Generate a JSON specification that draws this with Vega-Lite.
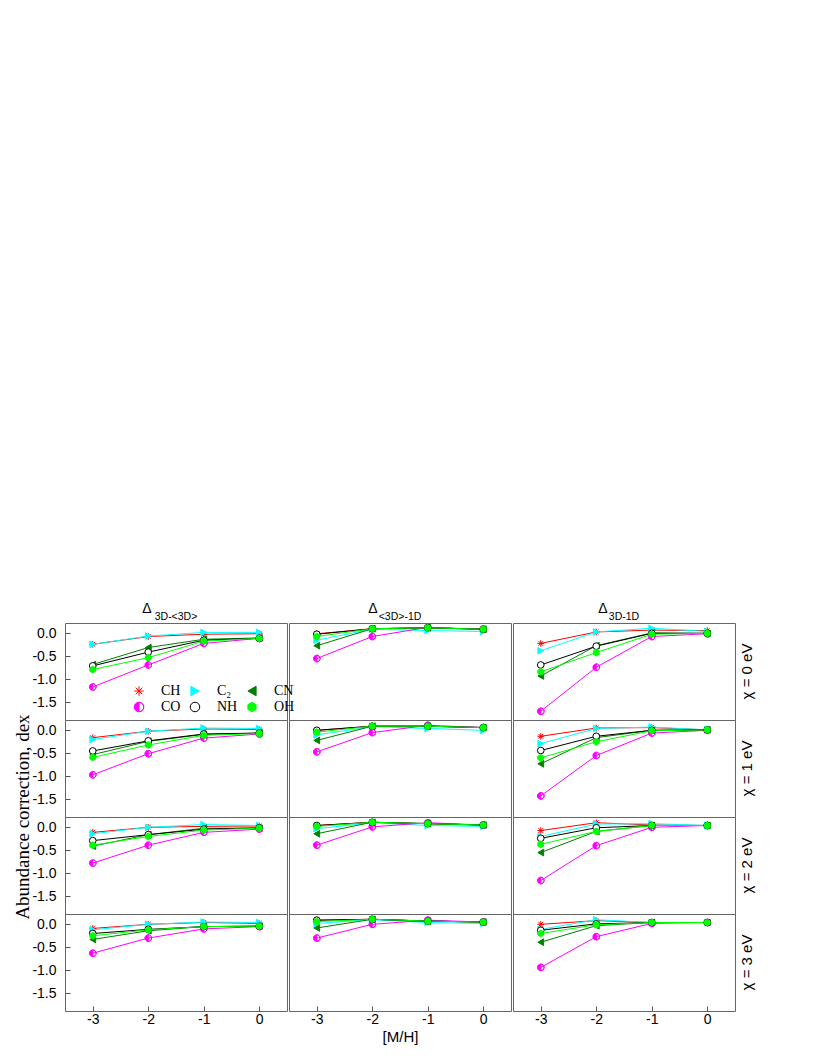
{
  "$schema": "https://vega.github.io/schema/vega-lite/v6.json",
  "background": "white",
  "padding": {"left": 13, "top": 601, "right": 5, "bottom": 5},
  "spacing": 0,
  "data": {"values": [
    {"c":"3D-<3D>","r":"χ = 0 eV","m":"CH","x":-3,"y":-0.24},{"c":"3D-<3D>","r":"χ = 0 eV","m":"CH","x":-2,"y":-0.07},{"c":"3D-<3D>","r":"χ = 0 eV","m":"CH","x":-1,"y":-0.02},{"c":"3D-<3D>","r":"χ = 0 eV","m":"CH","x":0,"y":-0.01},
    {"c":"3D-<3D>","r":"χ = 0 eV","m":"C₂","x":-3,"y":-0.24},{"c":"3D-<3D>","r":"χ = 0 eV","m":"C₂","x":-2,"y":-0.06},{"c":"3D-<3D>","r":"χ = 0 eV","m":"C₂","x":-1,"y":0.02},{"c":"3D-<3D>","r":"χ = 0 eV","m":"C₂","x":0,"y":0.02},
    {"c":"3D-<3D>","r":"χ = 0 eV","m":"CN","x":-3,"y":-0.68},{"c":"3D-<3D>","r":"χ = 0 eV","m":"CN","x":-2,"y":-0.31},{"c":"3D-<3D>","r":"χ = 0 eV","m":"CN","x":-1,"y":-0.13},{"c":"3D-<3D>","r":"χ = 0 eV","m":"CN","x":0,"y":-0.10},
    {"c":"3D-<3D>","r":"χ = 0 eV","m":"CO","x":-3,"y":-1.17},{"c":"3D-<3D>","r":"χ = 0 eV","m":"CO","x":-2,"y":-0.69},{"c":"3D-<3D>","r":"χ = 0 eV","m":"CO","x":-1,"y":-0.22},{"c":"3D-<3D>","r":"χ = 0 eV","m":"CO","x":0,"y":-0.11},
    {"c":"3D-<3D>","r":"χ = 0 eV","m":"NH","x":-3,"y":-0.71},{"c":"3D-<3D>","r":"χ = 0 eV","m":"NH","x":-2,"y":-0.41},{"c":"3D-<3D>","r":"χ = 0 eV","m":"NH","x":-1,"y":-0.15},{"c":"3D-<3D>","r":"χ = 0 eV","m":"NH","x":0,"y":-0.11},
    {"c":"3D-<3D>","r":"χ = 0 eV","m":"OH","x":-3,"y":-0.79},{"c":"3D-<3D>","r":"χ = 0 eV","m":"OH","x":-2,"y":-0.53},{"c":"3D-<3D>","r":"χ = 0 eV","m":"OH","x":-1,"y":-0.17},{"c":"3D-<3D>","r":"χ = 0 eV","m":"OH","x":0,"y":-0.11},

    {"c":"3D-<3D>","r":"χ = 1 eV","m":"CH","x":-3,"y":-0.16},{"c":"3D-<3D>","r":"χ = 1 eV","m":"CH","x":-2,"y":-0.02},{"c":"3D-<3D>","r":"χ = 1 eV","m":"CH","x":-1,"y":0.03},{"c":"3D-<3D>","r":"χ = 1 eV","m":"CH","x":0,"y":0.02},
    {"c":"3D-<3D>","r":"χ = 1 eV","m":"C₂","x":-3,"y":-0.20},{"c":"3D-<3D>","r":"χ = 1 eV","m":"C₂","x":-2,"y":-0.02},{"c":"3D-<3D>","r":"χ = 1 eV","m":"C₂","x":-1,"y":0.05},{"c":"3D-<3D>","r":"χ = 1 eV","m":"C₂","x":0,"y":0.04},
    {"c":"3D-<3D>","r":"χ = 1 eV","m":"CN","x":-3,"y":-0.53},{"c":"3D-<3D>","r":"χ = 1 eV","m":"CN","x":-2,"y":-0.24},{"c":"3D-<3D>","r":"χ = 1 eV","m":"CN","x":-1,"y":-0.09},{"c":"3D-<3D>","r":"χ = 1 eV","m":"CN","x":0,"y":-0.06},
    {"c":"3D-<3D>","r":"χ = 1 eV","m":"CO","x":-3,"y":-0.97},{"c":"3D-<3D>","r":"χ = 1 eV","m":"CO","x":-2,"y":-0.51},{"c":"3D-<3D>","r":"χ = 1 eV","m":"CO","x":-1,"y":-0.17},{"c":"3D-<3D>","r":"χ = 1 eV","m":"CO","x":0,"y":-0.08},
    {"c":"3D-<3D>","r":"χ = 1 eV","m":"NH","x":-3,"y":-0.45},{"c":"3D-<3D>","r":"χ = 1 eV","m":"NH","x":-2,"y":-0.23},{"c":"3D-<3D>","r":"χ = 1 eV","m":"NH","x":-1,"y":-0.08},{"c":"3D-<3D>","r":"χ = 1 eV","m":"NH","x":0,"y":-0.06},
    {"c":"3D-<3D>","r":"χ = 1 eV","m":"OH","x":-3,"y":-0.59},{"c":"3D-<3D>","r":"χ = 1 eV","m":"OH","x":-2,"y":-0.32},{"c":"3D-<3D>","r":"χ = 1 eV","m":"OH","x":-1,"y":-0.11},{"c":"3D-<3D>","r":"χ = 1 eV","m":"OH","x":0,"y":-0.07},

    {"c":"3D-<3D>","r":"χ = 2 eV","m":"CH","x":-3,"y":-0.11},{"c":"3D-<3D>","r":"χ = 2 eV","m":"CH","x":-2,"y":0.0},{"c":"3D-<3D>","r":"χ = 2 eV","m":"CH","x":-1,"y":0.02},{"c":"3D-<3D>","r":"χ = 2 eV","m":"CH","x":0,"y":0.03},
    {"c":"3D-<3D>","r":"χ = 2 eV","m":"C₂","x":-3,"y":-0.14},{"c":"3D-<3D>","r":"χ = 2 eV","m":"C₂","x":-2,"y":0.0},{"c":"3D-<3D>","r":"χ = 2 eV","m":"C₂","x":-1,"y":0.06},{"c":"3D-<3D>","r":"χ = 2 eV","m":"C₂","x":0,"y":0.04},
    {"c":"3D-<3D>","r":"χ = 2 eV","m":"CN","x":-3,"y":-0.41},{"c":"3D-<3D>","r":"χ = 2 eV","m":"CN","x":-2,"y":-0.16},{"c":"3D-<3D>","r":"χ = 2 eV","m":"CN","x":-1,"y":-0.02},{"c":"3D-<3D>","r":"χ = 2 eV","m":"CN","x":0,"y":-0.02},
    {"c":"3D-<3D>","r":"χ = 2 eV","m":"CO","x":-3,"y":-0.78},{"c":"3D-<3D>","r":"χ = 2 eV","m":"CO","x":-2,"y":-0.39},{"c":"3D-<3D>","r":"χ = 2 eV","m":"CO","x":-1,"y":-0.11},{"c":"3D-<3D>","r":"χ = 2 eV","m":"CO","x":0,"y":-0.04},
    {"c":"3D-<3D>","r":"χ = 2 eV","m":"NH","x":-3,"y":-0.29},{"c":"3D-<3D>","r":"χ = 2 eV","m":"NH","x":-2,"y":-0.16},{"c":"3D-<3D>","r":"χ = 2 eV","m":"NH","x":-1,"y":-0.04},{"c":"3D-<3D>","r":"χ = 2 eV","m":"NH","x":0,"y":-0.01},
    {"c":"3D-<3D>","r":"χ = 2 eV","m":"OH","x":-3,"y":-0.39},{"c":"3D-<3D>","r":"χ = 2 eV","m":"OH","x":-2,"y":-0.20},{"c":"3D-<3D>","r":"χ = 2 eV","m":"OH","x":-1,"y":-0.06},{"c":"3D-<3D>","r":"χ = 2 eV","m":"OH","x":0,"y":-0.02},

    {"c":"3D-<3D>","r":"χ = 3 eV","m":"CH","x":-3,"y":-0.09},{"c":"3D-<3D>","r":"χ = 3 eV","m":"CH","x":-2,"y":0.0},{"c":"3D-<3D>","r":"χ = 3 eV","m":"CH","x":-1,"y":0.04},{"c":"3D-<3D>","r":"χ = 3 eV","m":"CH","x":0,"y":0.02},
    {"c":"3D-<3D>","r":"χ = 3 eV","m":"C₂","x":-3,"y":-0.12},{"c":"3D-<3D>","r":"χ = 3 eV","m":"C₂","x":-2,"y":0.0},{"c":"3D-<3D>","r":"χ = 3 eV","m":"C₂","x":-1,"y":0.05},{"c":"3D-<3D>","r":"χ = 3 eV","m":"C₂","x":0,"y":0.04},
    {"c":"3D-<3D>","r":"χ = 3 eV","m":"CN","x":-3,"y":-0.33},{"c":"3D-<3D>","r":"χ = 3 eV","m":"CN","x":-2,"y":-0.14},{"c":"3D-<3D>","r":"χ = 3 eV","m":"CN","x":-1,"y":-0.05},{"c":"3D-<3D>","r":"χ = 3 eV","m":"CN","x":0,"y":-0.04},
    {"c":"3D-<3D>","r":"χ = 3 eV","m":"CO","x":-3,"y":-0.63},{"c":"3D-<3D>","r":"χ = 3 eV","m":"CO","x":-2,"y":-0.30},{"c":"3D-<3D>","r":"χ = 3 eV","m":"CO","x":-1,"y":-0.10},{"c":"3D-<3D>","r":"χ = 3 eV","m":"CO","x":0,"y":-0.05},
    {"c":"3D-<3D>","r":"χ = 3 eV","m":"NH","x":-3,"y":-0.20},{"c":"3D-<3D>","r":"χ = 3 eV","m":"NH","x":-2,"y":-0.11},{"c":"3D-<3D>","r":"χ = 3 eV","m":"NH","x":-1,"y":-0.05},{"c":"3D-<3D>","r":"χ = 3 eV","m":"NH","x":0,"y":-0.04},
    {"c":"3D-<3D>","r":"χ = 3 eV","m":"OH","x":-3,"y":-0.25},{"c":"3D-<3D>","r":"χ = 3 eV","m":"OH","x":-2,"y":-0.12},{"c":"3D-<3D>","r":"χ = 3 eV","m":"OH","x":-1,"y":-0.05},{"c":"3D-<3D>","r":"χ = 3 eV","m":"OH","x":0,"y":-0.04},

    {"c":"<3D>-1D","r":"χ = 0 eV","m":"CH","x":-3,"y":-0.01},{"c":"<3D>-1D","r":"χ = 0 eV","m":"CH","x":-2,"y":0.10},{"c":"<3D>-1D","r":"χ = 0 eV","m":"CH","x":-1,"y":0.12},{"c":"<3D>-1D","r":"χ = 0 eV","m":"CH","x":0,"y":0.09},
    {"c":"<3D>-1D","r":"χ = 0 eV","m":"C₂","x":-3,"y":-0.15},{"c":"<3D>-1D","r":"χ = 0 eV","m":"C₂","x":-2,"y":0.09},{"c":"<3D>-1D","r":"χ = 0 eV","m":"C₂","x":-1,"y":0.06},{"c":"<3D>-1D","r":"χ = 0 eV","m":"C₂","x":0,"y":0.04},
    {"c":"<3D>-1D","r":"χ = 0 eV","m":"CN","x":-3,"y":-0.27},{"c":"<3D>-1D","r":"χ = 0 eV","m":"CN","x":-2,"y":0.10},{"c":"<3D>-1D","r":"χ = 0 eV","m":"CN","x":-1,"y":0.12},{"c":"<3D>-1D","r":"χ = 0 eV","m":"CN","x":0,"y":0.09},
    {"c":"<3D>-1D","r":"χ = 0 eV","m":"CO","x":-3,"y":-0.55},{"c":"<3D>-1D","r":"χ = 0 eV","m":"CO","x":-2,"y":-0.07},{"c":"<3D>-1D","r":"χ = 0 eV","m":"CO","x":-1,"y":0.13},{"c":"<3D>-1D","r":"χ = 0 eV","m":"CO","x":0,"y":0.09},
    {"c":"<3D>-1D","r":"χ = 0 eV","m":"NH","x":-3,"y":-0.02},{"c":"<3D>-1D","r":"χ = 0 eV","m":"NH","x":-2,"y":0.10},{"c":"<3D>-1D","r":"χ = 0 eV","m":"NH","x":-1,"y":0.12},{"c":"<3D>-1D","r":"χ = 0 eV","m":"NH","x":0,"y":0.09},
    {"c":"<3D>-1D","r":"χ = 0 eV","m":"OH","x":-3,"y":-0.07},{"c":"<3D>-1D","r":"χ = 0 eV","m":"OH","x":-2,"y":0.10},{"c":"<3D>-1D","r":"χ = 0 eV","m":"OH","x":-1,"y":0.12},{"c":"<3D>-1D","r":"χ = 0 eV","m":"OH","x":0,"y":0.09},

    {"c":"<3D>-1D","r":"χ = 1 eV","m":"CH","x":-3,"y":0.0},{"c":"<3D>-1D","r":"χ = 1 eV","m":"CH","x":-2,"y":0.09},{"c":"<3D>-1D","r":"χ = 1 eV","m":"CH","x":-1,"y":0.09},{"c":"<3D>-1D","r":"χ = 1 eV","m":"CH","x":0,"y":0.06},
    {"c":"<3D>-1D","r":"χ = 1 eV","m":"C₂","x":-3,"y":-0.10},{"c":"<3D>-1D","r":"χ = 1 eV","m":"C₂","x":-2,"y":0.08},{"c":"<3D>-1D","r":"χ = 1 eV","m":"C₂","x":-1,"y":0.04},{"c":"<3D>-1D","r":"χ = 1 eV","m":"C₂","x":0,"y":0.0},
    {"c":"<3D>-1D","r":"χ = 1 eV","m":"CN","x":-3,"y":-0.22},{"c":"<3D>-1D","r":"χ = 1 eV","m":"CN","x":-2,"y":0.09},{"c":"<3D>-1D","r":"χ = 1 eV","m":"CN","x":-1,"y":0.09},{"c":"<3D>-1D","r":"χ = 1 eV","m":"CN","x":0,"y":0.06},
    {"c":"<3D>-1D","r":"χ = 1 eV","m":"CO","x":-3,"y":-0.47},{"c":"<3D>-1D","r":"χ = 1 eV","m":"CO","x":-2,"y":-0.05},{"c":"<3D>-1D","r":"χ = 1 eV","m":"CO","x":-1,"y":0.11},{"c":"<3D>-1D","r":"χ = 1 eV","m":"CO","x":0,"y":0.06},
    {"c":"<3D>-1D","r":"χ = 1 eV","m":"NH","x":-3,"y":0.0},{"c":"<3D>-1D","r":"χ = 1 eV","m":"NH","x":-2,"y":0.09},{"c":"<3D>-1D","r":"χ = 1 eV","m":"NH","x":-1,"y":0.09},{"c":"<3D>-1D","r":"χ = 1 eV","m":"NH","x":0,"y":0.06},
    {"c":"<3D>-1D","r":"χ = 1 eV","m":"OH","x":-3,"y":-0.04},{"c":"<3D>-1D","r":"χ = 1 eV","m":"OH","x":-2,"y":0.09},{"c":"<3D>-1D","r":"χ = 1 eV","m":"OH","x":-1,"y":0.09},{"c":"<3D>-1D","r":"χ = 1 eV","m":"OH","x":0,"y":0.06},

    {"c":"<3D>-1D","r":"χ = 2 eV","m":"CH","x":-3,"y":0.04},{"c":"<3D>-1D","r":"χ = 2 eV","m":"CH","x":-2,"y":0.11},{"c":"<3D>-1D","r":"χ = 2 eV","m":"CH","x":-1,"y":0.08},{"c":"<3D>-1D","r":"χ = 2 eV","m":"CH","x":0,"y":0.05},
    {"c":"<3D>-1D","r":"χ = 2 eV","m":"C₂","x":-3,"y":-0.03},{"c":"<3D>-1D","r":"χ = 2 eV","m":"C₂","x":-2,"y":0.10},{"c":"<3D>-1D","r":"χ = 2 eV","m":"C₂","x":-1,"y":0.04},{"c":"<3D>-1D","r":"χ = 2 eV","m":"C₂","x":0,"y":0.02},
    {"c":"<3D>-1D","r":"χ = 2 eV","m":"CN","x":-3,"y":-0.14},{"c":"<3D>-1D","r":"χ = 2 eV","m":"CN","x":-2,"y":0.11},{"c":"<3D>-1D","r":"χ = 2 eV","m":"CN","x":-1,"y":0.08},{"c":"<3D>-1D","r":"χ = 2 eV","m":"CN","x":0,"y":0.05},
    {"c":"<3D>-1D","r":"χ = 2 eV","m":"CO","x":-3,"y":-0.39},{"c":"<3D>-1D","r":"χ = 2 eV","m":"CO","x":-2,"y":0.01},{"c":"<3D>-1D","r":"χ = 2 eV","m":"CO","x":-1,"y":0.10},{"c":"<3D>-1D","r":"χ = 2 eV","m":"CO","x":0,"y":0.05},
    {"c":"<3D>-1D","r":"χ = 2 eV","m":"NH","x":-3,"y":0.04},{"c":"<3D>-1D","r":"χ = 2 eV","m":"NH","x":-2,"y":0.11},{"c":"<3D>-1D","r":"χ = 2 eV","m":"NH","x":-1,"y":0.08},{"c":"<3D>-1D","r":"χ = 2 eV","m":"NH","x":0,"y":0.05},
    {"c":"<3D>-1D","r":"χ = 2 eV","m":"OH","x":-3,"y":0.02},{"c":"<3D>-1D","r":"χ = 2 eV","m":"OH","x":-2,"y":0.11},{"c":"<3D>-1D","r":"χ = 2 eV","m":"OH","x":-1,"y":0.08},{"c":"<3D>-1D","r":"χ = 2 eV","m":"OH","x":0,"y":0.05},

    {"c":"<3D>-1D","r":"χ = 3 eV","m":"CH","x":-3,"y":0.09},{"c":"<3D>-1D","r":"χ = 3 eV","m":"CH","x":-2,"y":0.11},{"c":"<3D>-1D","r":"χ = 3 eV","m":"CH","x":-1,"y":0.07},{"c":"<3D>-1D","r":"χ = 3 eV","m":"CH","x":0,"y":0.05},
    {"c":"<3D>-1D","r":"χ = 3 eV","m":"C₂","x":-3,"y":0.02},{"c":"<3D>-1D","r":"χ = 3 eV","m":"C₂","x":-2,"y":0.10},{"c":"<3D>-1D","r":"χ = 3 eV","m":"C₂","x":-1,"y":0.04},{"c":"<3D>-1D","r":"χ = 3 eV","m":"C₂","x":0,"y":0.02},
    {"c":"<3D>-1D","r":"χ = 3 eV","m":"CN","x":-3,"y":-0.08},{"c":"<3D>-1D","r":"χ = 3 eV","m":"CN","x":-2,"y":0.11},{"c":"<3D>-1D","r":"χ = 3 eV","m":"CN","x":-1,"y":0.07},{"c":"<3D>-1D","r":"χ = 3 eV","m":"CN","x":0,"y":0.05},
    {"c":"<3D>-1D","r":"χ = 3 eV","m":"CO","x":-3,"y":-0.30},{"c":"<3D>-1D","r":"χ = 3 eV","m":"CO","x":-2,"y":0.0},{"c":"<3D>-1D","r":"χ = 3 eV","m":"CO","x":-1,"y":0.09},{"c":"<3D>-1D","r":"χ = 3 eV","m":"CO","x":0,"y":0.05},
    {"c":"<3D>-1D","r":"χ = 3 eV","m":"NH","x":-3,"y":0.09},{"c":"<3D>-1D","r":"χ = 3 eV","m":"NH","x":-2,"y":0.11},{"c":"<3D>-1D","r":"χ = 3 eV","m":"NH","x":-1,"y":0.07},{"c":"<3D>-1D","r":"χ = 3 eV","m":"NH","x":0,"y":0.05},
    {"c":"<3D>-1D","r":"χ = 3 eV","m":"OH","x":-3,"y":0.06},{"c":"<3D>-1D","r":"χ = 3 eV","m":"OH","x":-2,"y":0.11},{"c":"<3D>-1D","r":"χ = 3 eV","m":"OH","x":-1,"y":0.07},{"c":"<3D>-1D","r":"χ = 3 eV","m":"OH","x":0,"y":0.05},

    {"c":"3D-1D","r":"χ = 0 eV","m":"CH","x":-3,"y":-0.22},{"c":"3D-1D","r":"χ = 0 eV","m":"CH","x":-2,"y":0.03},{"c":"3D-1D","r":"χ = 0 eV","m":"CH","x":-1,"y":0.07},{"c":"3D-1D","r":"χ = 0 eV","m":"CH","x":0,"y":0.06},
    {"c":"3D-1D","r":"χ = 0 eV","m":"C₂","x":-3,"y":-0.38},{"c":"3D-1D","r":"χ = 0 eV","m":"C₂","x":-2,"y":0.03},{"c":"3D-1D","r":"χ = 0 eV","m":"C₂","x":-1,"y":0.11},{"c":"3D-1D","r":"χ = 0 eV","m":"C₂","x":0,"y":0.04},
    {"c":"3D-1D","r":"χ = 0 eV","m":"CN","x":-3,"y":-0.93},{"c":"3D-1D","r":"χ = 0 eV","m":"CN","x":-2,"y":-0.27},{"c":"3D-1D","r":"χ = 0 eV","m":"CN","x":-1,"y":0.01},{"c":"3D-1D","r":"χ = 0 eV","m":"CN","x":0,"y":0.0},
    {"c":"3D-1D","r":"χ = 0 eV","m":"CO","x":-3,"y":-1.70},{"c":"3D-1D","r":"χ = 0 eV","m":"CO","x":-2,"y":-0.74},{"c":"3D-1D","r":"χ = 0 eV","m":"CO","x":-1,"y":-0.07},{"c":"3D-1D","r":"χ = 0 eV","m":"CO","x":0,"y":-0.01},
    {"c":"3D-1D","r":"χ = 0 eV","m":"NH","x":-3,"y":-0.69},{"c":"3D-1D","r":"χ = 0 eV","m":"NH","x":-2,"y":-0.28},{"c":"3D-1D","r":"χ = 0 eV","m":"NH","x":-1,"y":0.0},{"c":"3D-1D","r":"χ = 0 eV","m":"NH","x":0,"y":0.0},
    {"c":"3D-1D","r":"χ = 0 eV","m":"OH","x":-3,"y":-0.84},{"c":"3D-1D","r":"χ = 0 eV","m":"OH","x":-2,"y":-0.42},{"c":"3D-1D","r":"χ = 0 eV","m":"OH","x":-1,"y":-0.02},{"c":"3D-1D","r":"χ = 0 eV","m":"OH","x":0,"y":0.0},

    {"c":"3D-1D","r":"χ = 1 eV","m":"CH","x":-3,"y":-0.13},{"c":"3D-1D","r":"χ = 1 eV","m":"CH","x":-2,"y":0.05},{"c":"3D-1D","r":"χ = 1 eV","m":"CH","x":-1,"y":0.06},{"c":"3D-1D","r":"χ = 1 eV","m":"CH","x":0,"y":0.01},
    {"c":"3D-1D","r":"χ = 1 eV","m":"C₂","x":-3,"y":-0.29},{"c":"3D-1D","r":"χ = 1 eV","m":"C₂","x":-2,"y":0.04},{"c":"3D-1D","r":"χ = 1 eV","m":"C₂","x":-1,"y":0.07},{"c":"3D-1D","r":"χ = 1 eV","m":"C₂","x":0,"y":0.01},
    {"c":"3D-1D","r":"χ = 1 eV","m":"CN","x":-3,"y":-0.73},{"c":"3D-1D","r":"χ = 1 eV","m":"CN","x":-2,"y":-0.16},{"c":"3D-1D","r":"χ = 1 eV","m":"CN","x":-1,"y":0.0},{"c":"3D-1D","r":"χ = 1 eV","m":"CN","x":0,"y":0.01},
    {"c":"3D-1D","r":"χ = 1 eV","m":"CO","x":-3,"y":-1.43},{"c":"3D-1D","r":"χ = 1 eV","m":"CO","x":-2,"y":-0.55},{"c":"3D-1D","r":"χ = 1 eV","m":"CO","x":-1,"y":-0.06},{"c":"3D-1D","r":"χ = 1 eV","m":"CO","x":0,"y":0.0},
    {"c":"3D-1D","r":"χ = 1 eV","m":"NH","x":-3,"y":-0.44},{"c":"3D-1D","r":"χ = 1 eV","m":"NH","x":-2,"y":-0.13},{"c":"3D-1D","r":"χ = 1 eV","m":"NH","x":-1,"y":0.0},{"c":"3D-1D","r":"χ = 1 eV","m":"NH","x":0,"y":0.01},
    {"c":"3D-1D","r":"χ = 1 eV","m":"OH","x":-3,"y":-0.60},{"c":"3D-1D","r":"χ = 1 eV","m":"OH","x":-2,"y":-0.25},{"c":"3D-1D","r":"χ = 1 eV","m":"OH","x":-1,"y":-0.01},{"c":"3D-1D","r":"χ = 1 eV","m":"OH","x":0,"y":0.01},

    {"c":"3D-1D","r":"χ = 2 eV","m":"CH","x":-3,"y":-0.07},{"c":"3D-1D","r":"χ = 2 eV","m":"CH","x":-2,"y":0.10},{"c":"3D-1D","r":"χ = 2 eV","m":"CH","x":-1,"y":0.05},{"c":"3D-1D","r":"χ = 2 eV","m":"CH","x":0,"y":0.04},
    {"c":"3D-1D","r":"χ = 2 eV","m":"C₂","x":-3,"y":-0.20},{"c":"3D-1D","r":"χ = 2 eV","m":"C₂","x":-2,"y":0.07},{"c":"3D-1D","r":"χ = 2 eV","m":"C₂","x":-1,"y":0.08},{"c":"3D-1D","r":"χ = 2 eV","m":"C₂","x":0,"y":0.04},
    {"c":"3D-1D","r":"χ = 2 eV","m":"CN","x":-3,"y":-0.55},{"c":"3D-1D","r":"χ = 2 eV","m":"CN","x":-2,"y":-0.09},{"c":"3D-1D","r":"χ = 2 eV","m":"CN","x":-1,"y":0.04},{"c":"3D-1D","r":"χ = 2 eV","m":"CN","x":0,"y":0.04},
    {"c":"3D-1D","r":"χ = 2 eV","m":"CO","x":-3,"y":-1.16},{"c":"3D-1D","r":"χ = 2 eV","m":"CO","x":-2,"y":-0.40},{"c":"3D-1D","r":"χ = 2 eV","m":"CO","x":-1,"y":0.0},{"c":"3D-1D","r":"χ = 2 eV","m":"CO","x":0,"y":0.04},
    {"c":"3D-1D","r":"χ = 2 eV","m":"NH","x":-3,"y":-0.24},{"c":"3D-1D","r":"χ = 2 eV","m":"NH","x":-2,"y":-0.01},{"c":"3D-1D","r":"χ = 2 eV","m":"NH","x":-1,"y":0.04},{"c":"3D-1D","r":"χ = 2 eV","m":"NH","x":0,"y":0.04},
    {"c":"3D-1D","r":"χ = 2 eV","m":"OH","x":-3,"y":-0.37},{"c":"3D-1D","r":"χ = 2 eV","m":"OH","x":-2,"y":-0.09},{"c":"3D-1D","r":"χ = 2 eV","m":"OH","x":-1,"y":0.04},{"c":"3D-1D","r":"χ = 2 eV","m":"OH","x":0,"y":0.04},

    {"c":"3D-1D","r":"χ = 3 eV","m":"CH","x":-3,"y":0.0},{"c":"3D-1D","r":"χ = 3 eV","m":"CH","x":-2,"y":0.08},{"c":"3D-1D","r":"χ = 3 eV","m":"CH","x":-1,"y":0.04},{"c":"3D-1D","r":"χ = 3 eV","m":"CH","x":0,"y":0.04},
    {"c":"3D-1D","r":"χ = 3 eV","m":"C₂","x":-3,"y":-0.11},{"c":"3D-1D","r":"χ = 3 eV","m":"C₂","x":-2,"y":0.10},{"c":"3D-1D","r":"χ = 3 eV","m":"C₂","x":-1,"y":0.04},{"c":"3D-1D","r":"χ = 3 eV","m":"C₂","x":0,"y":0.04},
    {"c":"3D-1D","r":"χ = 3 eV","m":"CN","x":-3,"y":-0.39},{"c":"3D-1D","r":"χ = 3 eV","m":"CN","x":-2,"y":-0.03},{"c":"3D-1D","r":"χ = 3 eV","m":"CN","x":-1,"y":0.04},{"c":"3D-1D","r":"χ = 3 eV","m":"CN","x":0,"y":0.04},
    {"c":"3D-1D","r":"χ = 3 eV","m":"CO","x":-3,"y":-0.94},{"c":"3D-1D","r":"χ = 3 eV","m":"CO","x":-2,"y":-0.27},{"c":"3D-1D","r":"χ = 3 eV","m":"CO","x":-1,"y":0.02},{"c":"3D-1D","r":"χ = 3 eV","m":"CO","x":0,"y":0.04},
    {"c":"3D-1D","r":"χ = 3 eV","m":"NH","x":-3,"y":-0.13},{"c":"3D-1D","r":"χ = 3 eV","m":"NH","x":-2,"y":0.01},{"c":"3D-1D","r":"χ = 3 eV","m":"NH","x":-1,"y":0.04},{"c":"3D-1D","r":"χ = 3 eV","m":"NH","x":0,"y":0.04},
    {"c":"3D-1D","r":"χ = 3 eV","m":"OH","x":-3,"y":-0.20},{"c":"3D-1D","r":"χ = 3 eV","m":"OH","x":-2,"y":-0.01},{"c":"3D-1D","r":"χ = 3 eV","m":"OH","x":-1,"y":0.04},{"c":"3D-1D","r":"χ = 3 eV","m":"OH","x":0,"y":0.04}
  ]},
  "hconcat": [
    {
      "title": {"text": "Δ", "dx": 82},
      "transform": [{"filter": "datum.c == '3D-<3D>'"}],
      "bounds": "flush",
      "resolve": {"axis": {"y": "independent"}},
      "facet": {
        "row": {"field": "r", "type": "nominal", "title": "Abundance correction, dex",
          "header": {"labels": false, "titleOrient": "left", "titleFont": "Liberation Serif", "titleFontSize": 19, "titleFontWeight": "normal", "titleColor": "black", "titlePadding": 22}},
        "column": {"field": "c", "type": "nominal", "title": null}
      },
      "spacing": 0,
      "spec": {
        "width": 222, "height": 97,
        "resolve": {"axis": {"y": "independent"}},
        "layer": [
          {"mark": {"type": "line", "strokeWidth": 1},
           "encoding": {
             "x": {"field": "x", "type": "quantitative", "scale": {"domain": [-3.5, 0.5], "nice": false, "zero": false},
                   "axis": {"values": [-3, -2, -1, 0], "title": null, "labelExpr": "datum.value == 0 ? '0' : '-' + format(-datum.value, 'd')"}},
             "y": {"field": "y", "type": "quantitative", "scale": {"domain": [-1.89, 0.225], "nice": false, "zero": false},
                   "axis": {"orient": "left", "values": [0, -1], "title": null, "labelOverlap": false, "labelPadding": 14,
                            "labelExpr": "datum.value == 0 ? '0.0' : '-' + format(-datum.value, '.1f')"}},
             "stroke": {"field": "m", "type": "nominal",
                        "scale": {"domain": ["CH","C₂","CN","CO","NH","OH"], "range": ["#FF0000","#00FFFF","#008000","#FF00FF","#000000","#00FF00"]}}
           }},
          {"mark": {"type": "point", "filled": true, "opacity": 1, "strokeWidth": 1, "size": 45},
           "encoding": {
             "x": {"field": "x", "type": "quantitative"},
             "y": {"field": "y", "type": "quantitative",
                   "axis": {"orient": "left", "values": [-0.5, -1.5], "title": null, "labelOverlap": false, "labelPadding": 14,
                            "labelExpr": "'-' + format(-datum.value, '.1f')"}},
             "stroke": {"field": "m", "type": "nominal",
                        "legend": {"title": null, "orient": "none", "legendX": 67, "legendY": 61, "direction": "horizontal", "columns": 3}},
             "fill": {"field": "m", "type": "nominal",
                      "legend": {"title": null, "orient": "none", "legendX": 67, "legendY": 61, "direction": "horizontal", "columns": 3},
                      "scale": {"domain": ["CH","C₂","CN","CO","NH","OH"], "range": ["#FF0000","#00FFFF","#008000","#FF00FF","#FFFFFF","#00FF00"]}},
             "shape": {"field": "m", "type": "nominal",
                       "legend": {"title": null, "orient": "none", "legendX": 67, "legendY": 61, "direction": "horizontal", "columns": 3},
                       "scale": {"domain": ["CH","C₂","CN","CO","NH","OH"], "range": ["M-1,0L1,0M0,-1L0,1M-0.7,-0.7L0.7,0.7M-0.7,0.7L0.7,-0.7","triangle-right","triangle-left","M0,-1A1,1 0 1,1 0,1A1,1 0 1,1 0,-1ZM0,-1L0,1A1,1 0 0,0 0,-1Z","circle","M0,-1L0.866,-0.5L0.866,0.5L0,1L-0.866,0.5L-0.866,-0.5Z"]}}
           }}
        ]
      }
    },
    {
      "title": {"text": "Δ", "dx": 84},
      "transform": [{"filter": "datum.c == '<3D>-1D'"}],
      "bounds": "flush",
      "facet": {
        "row": {"field": "r", "type": "nominal", "title": null, "header": {"labels": false}},
        "column": {"field": "c", "type": "nominal", "title": null}
      },
      "spacing": 0,
      "spec": {
        "width": 222, "height": 97,
        "layer": [
          {"mark": {"type": "line", "strokeWidth": 1},
           "encoding": {
             "x": {"field": "x", "type": "quantitative", "scale": {"domain": [-3.5, 0.5], "nice": false, "zero": false},
                   "axis": {"values": [-3, -2, -1, 0], "title": "[M/H]", "labelExpr": "datum.value == 0 ? '0' : '-' + format(-datum.value, 'd')"}},
             "y": {"field": "y", "type": "quantitative", "scale": {"domain": [-1.89, 0.225], "nice": false, "zero": false}, "axis": null},
             "stroke": {"field": "m", "type": "nominal"}
           }},
          {"mark": {"type": "point", "filled": true, "opacity": 1, "strokeWidth": 1, "size": 45},
           "encoding": {
             "x": {"field": "x", "type": "quantitative"},
             "y": {"field": "y", "type": "quantitative"},
             "stroke": {"field": "m", "type": "nominal"},
             "fill": {"field": "m", "type": "nominal"},
             "shape": {"field": "m", "type": "nominal"}
           }}
        ]
      }
    },
    {
      "title": {"text": "Δ", "dx": 90},
      "transform": [{"filter": "datum.c == '3D-1D'"}],
      "bounds": "flush",
      "facet": {
        "row": {"field": "r", "type": "nominal", "title": null,
          "header": {"labels": true, "labelOrient": "right", "labelAngle": -90, "labelAlign": "center", "labelBaseline": "top", "labelFont": "Liberation Sans", "labelFontSize": 15, "labelColor": "black", "labelPadding": -10}},
        "column": {"field": "c", "type": "nominal", "title": null}
      },
      "spacing": 0,
      "spec": {
        "width": 222, "height": 97,
        "layer": [
          {"mark": {"type": "line", "strokeWidth": 1},
           "encoding": {
             "x": {"field": "x", "type": "quantitative", "scale": {"domain": [-3.5, 0.5], "nice": false, "zero": false},
                   "axis": {"values": [-3, -2, -1, 0], "title": null, "labelExpr": "datum.value == 0 ? '0' : '-' + format(-datum.value, 'd')"}},
             "y": {"field": "y", "type": "quantitative", "scale": {"domain": [-1.89, 0.225], "nice": false, "zero": false}, "axis": null},
             "stroke": {"field": "m", "type": "nominal"}
           }},
          {"mark": {"type": "point", "filled": true, "opacity": 1, "strokeWidth": 1, "size": 45},
           "encoding": {
             "x": {"field": "x", "type": "quantitative"},
             "y": {"field": "y", "type": "quantitative"},
             "stroke": {"field": "m", "type": "nominal"},
             "fill": {"field": "m", "type": "nominal"},
             "shape": {"field": "m", "type": "nominal"}
           }}
        ]
      }
    }
  ],
  "resolve": {"scale": {"stroke": "shared", "fill": "shared", "shape": "shared"}},
  "config": {
    "font": "Liberation Sans",
    "view": {"stroke": "#666666", "strokeWidth": 1},
    "axis": {"grid": false, "domain": false, "ticks": true, "tickColor": "#555555", "tickSize": -5, "labelPadding": 12, "labelOverlap": false,
             "labelFont": "Liberation Sans", "labelFontSize": 14, "labelColor": "black",
             "titleFont": "Liberation Sans", "titleFontSize": 15, "titleFontWeight": "normal", "titleColor": "black", "titlePadding": 3},
    "axisX": {"labelPadding": 6},
    "headerColumn": {"labelFont": "Liberation Sans", "labelFontSize": 10.5, "labelColor": "black", "labelBaseline": "alphabetic", "labelPadding": -7},
    "title": {"anchor": "middle", "frame": "group", "font": "Liberation Sans", "fontSize": 14, "fontWeight": "normal", "color": "black", "baseline": "alphabetic", "offset": -4},
    "legend": {"labelFont": "Liberation Serif", "labelFontSize": 14, "labelColor": "black", "symbolSize": 90, "symbolStrokeWidth": 1,
               "columnPadding": 7, "rowPadding": 2, "labelOffset": 15, "padding": 0, "symbolOpacity": 1}
  }
}
